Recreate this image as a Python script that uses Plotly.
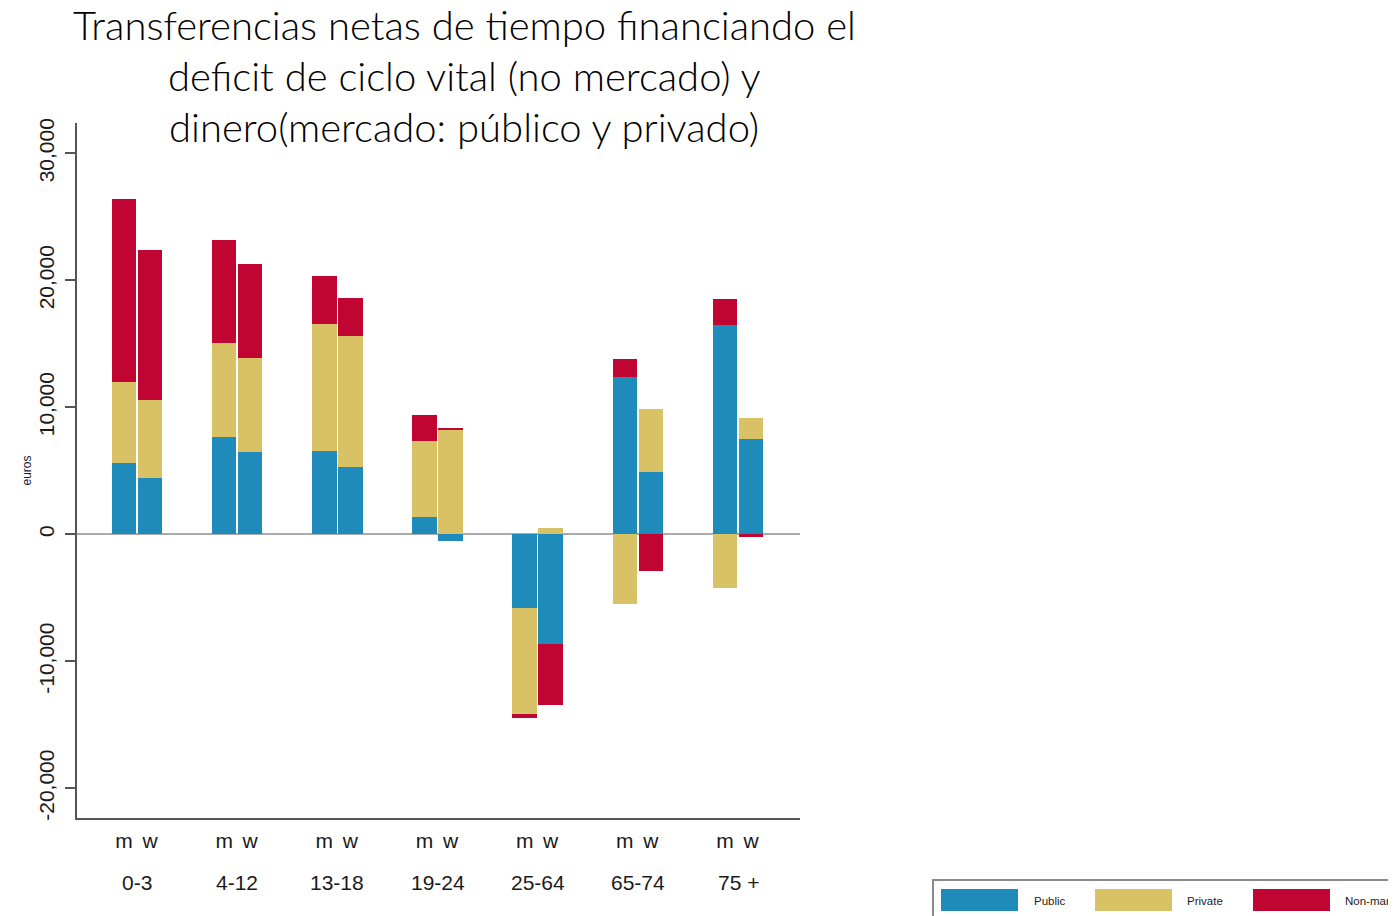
import plotly.graph_objects as go

# ---------------- data ----------------
groups = ["0-3", "4-12", "13-18", "19-24", "25-64", "65-74", "75 +"]
sexes = ["m", "w"]
series_names = ["Public", "Private", "Non-market"]
series_colors = ["#1e8bba", "#d8c265", "#c10533"]

public_m = [5600, 7650, 6600, 1350, -5800, 12350, 16450]
public_w = [4400, 6500, 5300, -500, -8600, 4900, 7500]
private_m = [6400, 7450, 9950, 6000, -8350, -5500, -4200]
private_w = [6150, 7400, 10350, 8200, 480, 4950, 1650]
nonmarket_m = [14400, 8100, 3800, 2050, -280, 1450, 2050]
nonmarket_w = [11850, 7350, 2950, 200, -4850, -2850, -200]

title_lines = [
    "Transferencias netas de tiempo financiando el",
    "deficit de ciclo vital (no mercado) y",
    "dinero(mercado: público y privado)",
]
y_ticks = [-20000, -10000, 0, 10000, 20000, 30000]
y_tick_labels = ["-20,000", "-10,000", "0", "10,000", "20,000", "30,000"]

# ---------------- layout constants (page has an 8px body margin) ----------------
PAGE_OFF = 8
W, H = 1396 - PAGE_OFF, 916 - PAGE_OFF
L, R, T, B = 77 - PAGE_OFF, 596, 123 - PAGE_OFF, 98
PW, PH = W - L - R, H - T - B
OFF = 0.13
BW = 0.245


def px_x(p):
    return (p - PAGE_OFF - L) / PW


def px_y(p):
    return (H - B - (p - PAGE_OFF)) / PH


x_pos, x_txt = [], []
for i, g in enumerate(groups):
    x_pos += [i - OFF, i + OFF]
    x_txt += sexes

series_values = [
    (public_m, public_w),
    (private_m, private_w),
    (nonmarket_m, nonmarket_w),
]

fig = go.Figure()
for name, color, (vm, vw) in zip(series_names, series_colors, series_values):
    yv = []
    for a, b in zip(vm, vw):
        yv += [a, b]
    fig.add_trace(go.Bar(
        x=x_pos, y=yv, name=name, width=BW,
        marker=dict(color=color, line=dict(width=0)),
        showlegend=False,
    ))

annotations = []
# group labels under m/w
for i, g in enumerate(groups):
    annotations.append(dict(
        x=i, y=px_y(882), xref="x", yref="paper", text=g, showarrow=False,
        xanchor="center", yanchor="middle",
        font=dict(family="Liberation Sans", size=21, color="#1a1a1a"),
    ))
# title lines
for k, line in enumerate(title_lines):
    annotations.append(dict(
        x=px_x(464), y=px_y(25 + 51 * k), xref="paper", yref="paper",
        text=line, showarrow=False, xanchor="center", yanchor="middle",
        font=dict(family="Lato", size=40, color="#000000", weight=300),
    ))

# custom legend
shapes = [dict(
    type="rect", xref="paper", yref="paper",
    x0=px_x(933), x1=px_x(1410), y0=px_y(880), y1=px_y(930),
    line=dict(color="#8a8a8a", width=2), fillcolor="white", layer="below",
)]
sw_left = [941, 1095, 1253]
txt_left = [1032, 1185, 1343]
for name, color, sx, tx in zip(series_names, series_colors, sw_left, txt_left):
    shapes.append(dict(
        type="rect", xref="paper", yref="paper",
        x0=px_x(sx), x1=px_x(sx + 77), y0=px_y(889), y1=px_y(911),
        line=dict(width=0), fillcolor=color,
    ))
    annotations.append(dict(
        x=px_x(tx), y=px_y(901), xref="paper", yref="paper", text=name,
        showarrow=False, xanchor="left", yanchor="middle",
        font=dict(family="Liberation Sans", size=11.5, color="#222222"),
    ))

fig.update_layout(
    width=W, height=H,
    margin=dict(l=L, r=R, t=T, b=B, pad=0),
    barmode="relative", bargap=0,
    paper_bgcolor="white", plot_bgcolor="white",
    annotations=annotations, shapes=shapes,
    showlegend=False,
)
fig.update_xaxes(
    range=[(77 - 137) / 100.17, (800 - 137) / 100.17],
    tickmode="array", tickvals=x_pos, ticktext=x_txt,
    ticks="", showgrid=False, zeroline=False,
    showline=True, linecolor="#555555", linewidth=2,
    tickfont=dict(family="Liberation Sans", size=21, color="#1a1a1a"),
    ticklabelstandoff=3,
)
fig.update_yaxes(
    range=[-22340, 32390],
    tickmode="array", tickvals=y_ticks, ticktext=y_tick_labels,
    tickangle=-90, ticks="outside", ticklen=10, tickwidth=1.5, tickcolor="#555555",
    showgrid=False, zeroline=True, zerolinecolor="#aaaaaa", zerolinewidth=2,
    showline=True, linecolor="#555555", linewidth=2,
    tickfont=dict(family="Liberation Sans", size=21, color="#1a1a1a"),
    ticklabelstandoff=3,
    title=dict(text="euros", standoff=0,
               font=dict(family="Liberation Sans", size=12, color="#1a1a3a")),
)

fig.write_html("out.html")
